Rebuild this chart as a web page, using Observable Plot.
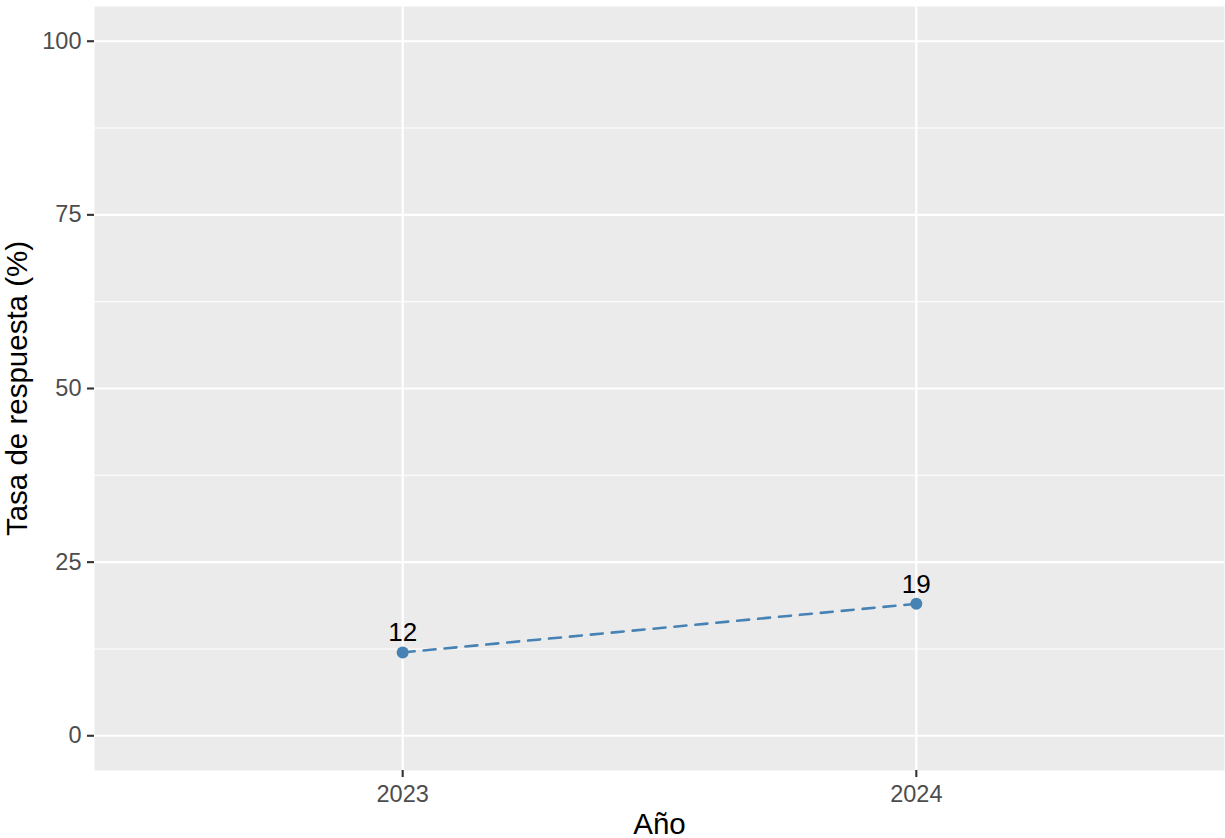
<!DOCTYPE html>
<html>
<head>
<meta charset="utf-8">
<script src="https://cdn.jsdelivr.net/npm/d3@7"></script>
<script src="https://cdn.jsdelivr.net/npm/@observablehq/plot@0.6"></script>
<style>
  html, body { margin: 0; padding: 0; background: #fff; overflow: hidden; }
  #chart svg { display: block; }
</style>
</head>
<body>
<div id="chart"></div>
<script>
const years = [2023, 2024];
const values = [12, 19];
const yTicks = [0, 25, 50, 75, 100];
const yMinor = [12.5, 37.5, 62.5, 87.5];
const xTicks = [2023, 2024];
const xLabel = "Año";
const yLabel = "Tasa de respuesta (%)";

const data = years.map((y, i) => ({year: y, value: values[i]}));
const font = "'Liberation Sans', Arial, sans-serif";

const chart = Plot.plot({
  width: 1225,
  height: 838,
  marginTop: 6,
  marginBottom: 68,
  marginLeft: 94,
  marginRight: 1,
  style: {fontFamily: font, background: "#fff"},
  x: {domain: [2022.4, 2024.6]},
  y: {domain: [-5, 105]},
  marks: [
    Plot.frame({fill: "#EBEBEB", stroke: null}),
    Plot.gridY(yMinor, {stroke: "#fff", strokeOpacity: 1, strokeWidth: 1.1}),
    Plot.gridY(yTicks, {stroke: "#fff", strokeOpacity: 1, strokeWidth: 2.2}),
    Plot.gridX(xTicks, {stroke: "#fff", strokeOpacity: 1, strokeWidth: 2.2}),
    Plot.axisY(yTicks, {
      tickSize: 7, tickPadding: 6, stroke: "#333", strokeWidth: 2.1,
      fill: "#4D4D4D", fontSize: 23.5,
      label: yLabel, labelAnchor: "center", labelArrow: "none", labelOffset: 88
    }),
    Plot.axisX(xTicks, {
      tickSize: 7, tickPadding: 8, stroke: "#333", strokeWidth: 2.1,
      fill: "#4D4D4D", fontSize: 23.5, tickFormat: d => String(d),
      label: xLabel, labelAnchor: "center", labelArrow: "none", labelOffset: 63
    }),
    Plot.line(data, {x: "year", y: "value", stroke: "#4682B4", strokeWidth: 2.6, strokeDasharray: "12,9"}),
    Plot.dot(data, {x: "year", y: "value", r: 6, fill: "#4682B4", stroke: null}),
    Plot.text(data, {x: "year", y: "value", text: d => String(d.value), dy: -11, lineAnchor: "bottom", fontSize: 26, fill: "#000"})
  ]
});

chart.querySelectorAll("g[aria-label='y-axis label'] text, g[aria-label='x-axis label'] text").forEach(t => {
  t.setAttribute("fill", "#000");
  t.setAttribute("font-size", "29.5");
});
document.getElementById("chart").appendChild(chart);
</script>
</body>
</html>
